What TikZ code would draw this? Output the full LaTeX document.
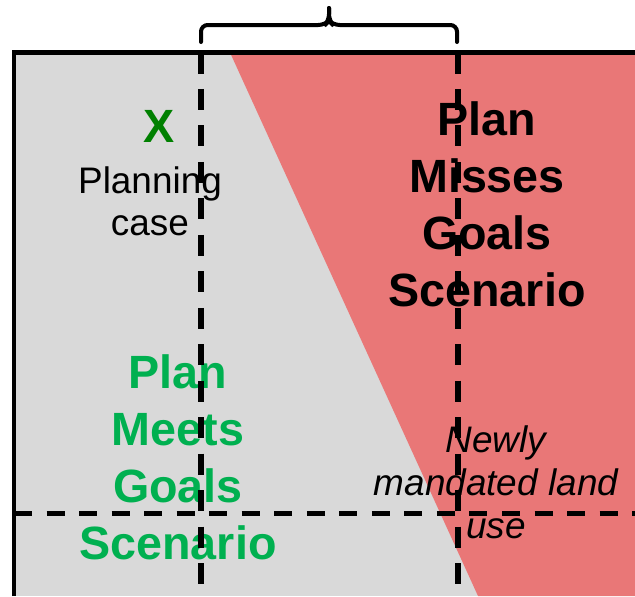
\documentclass[tikz,border=0pt]{standalone}
\usepackage{fontspec}
\setmainfont{Liberation Sans}
\definecolor{caseGray}{RGB}{217,217,217}
\definecolor{missRed}{RGB}{233,119,119}
\definecolor{missDark}{RGB}{140,0,0}
\definecolor{meetGreen}{RGB}{0,176,80}
\definecolor{caseGreen}{RGB}{0,128,0}

\begin{document}
\begin{tikzpicture}[x=0.75pt, y=-0.75pt]
  \tikzset{
    BigText/.style = {anchor=base, inner sep=0pt,
      font=\fontsize{35}{42}\selectfont\bfseries},
    SmallText/.style = {anchor=base, inner sep=0pt,
      font=\fontsize{27.7}{32}\selectfont},
    LandText/.style = {SmallText,
      font=\fontsize{27.7}{32}\selectfont\itshape},
    Frame/.style = {line width=3.4pt},
    SplitV/.style = {line width=4.1pt, dash pattern=on 15.75pt off 11.6pt},
    SplitH/.style = {line width=4.1pt, dash pattern=on 13.5pt off 10.9pt},
    Bracket/.style = {line width=3pt, rounded corners=5pt, line cap=round}}
  \useasboundingbox (0,0) rectangle (635,596);
  \coordinate (TL) at (14,52.5);
  \coordinate (TR) at (635,52.5);
  \coordinate (BL) at (14,596);
  \coordinate (BR) at (635,596);
  \coordinate (RT) at (230,52.5);
  \coordinate (RB) at (478,596);
  \coordinate (DL) at (231,54.5);
  \coordinate (DR) at (635,54.5);
  \fill[caseGray] (TL) rectangle (BR);
  \fill[missRed] (RT) -- (TR) -- (BR) -- (RB) -- cycle;
  \draw[missDark, line width=0.8pt] (DL) -- (DR);
  \node[BigText, caseGreen] (x) at (159,142) {X};
  \node[SmallText] (case1) at (150,193) {Planning};
  \node[SmallText] (case2) at (150,235) {case};
  \foreach \t [count=\i] in {Plan,Misses,Goals,Scenario}
    \node[BigText] (miss\i) at (487,{135+57*(\i-1)}) {\t};
  \foreach \t [count=\i] in {Plan,Meets,Goals,Scenario}
    \node[BigText, meetGreen] (meet\i) at (178,{388+57*(\i-1)}) {\t};
  \foreach \t [count=\i] in {Newly,mandated land,use}
    \node[LandText] (land\i) at (496,{452+43*(\i-1)}) {\t};
  \coordinate (V1t) at (201,52.5);
  \coordinate (V1b) at (201,596);
  \coordinate (V2t) at (458,52.5);
  \coordinate (V2b) at (458,596);
  \coordinate (Hl) at (14,513.5);
  \coordinate (Hr) at (635,513.5);
  \draw[SplitV] (V1t) -- (V1b);
  \draw[SplitV] (V2t) -- (V2b);
  \draw[SplitH] (Hl) -- (Hr);
  \draw[Frame] (BL) -- (TL) -- (TR);
  \coordinate (BrL) at (201,42);
  \coordinate (BrR) at (457,42);
  \coordinate (BrTip) at (329,8);
  \draw[Bracket] (BrL) -- ++(0,-17) -- ++(124,0) -- ++(4,-4) -- (BrTip);
  \draw[Bracket] (BrR) -- ++(0,-17) -- ++(-124,0) -- ++(-4,-4) -- (BrTip);
\end{tikzpicture}
\end{document}
